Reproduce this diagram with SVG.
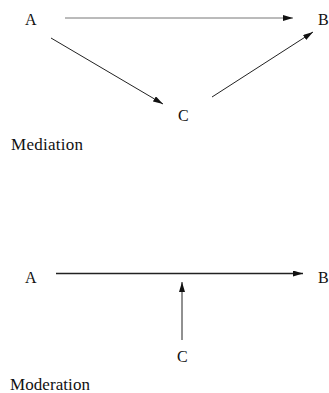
<svg xmlns="http://www.w3.org/2000/svg" width="329" height="393" viewBox="0 0 329 393">
<defs>
<style>
text{font-family:"Liberation Serif","Times New Roman",serif;font-size:16px;fill:#111}
.lbl{font-size:17px}
.c{stroke:#222;stroke-width:1;fill:none}
.g{stroke:#666;stroke-width:0.9;fill:none}
</style>
<marker id="ah" viewBox="0 0 10 6" refX="10" refY="3" markerWidth="10" markerHeight="6" markerUnits="userSpaceOnUse" orient="auto">
<path d="M0,0 L10,3 L0,6 z" fill="#111"/>
</marker>
</defs>
<rect width="329" height="393" fill="#fff"/>
<g id="connectors">
<line class="g" x1="65" y1="18" x2="293" y2="18" marker-end="url(#ah)"/>
<line class="c" x1="51" y1="38" x2="163" y2="104" marker-end="url(#ah)"/>
<line class="c" x1="212" y1="97" x2="313" y2="32" marker-end="url(#ah)"/>
<line class="c" x1="56" y1="273.5" x2="303" y2="273.5" style="stroke-width:1.3" marker-end="url(#ah)"/>
<line class="c" x1="182" y1="340" x2="182" y2="282" marker-end="url(#ah)"/>
</g>
<g id="mA"><text x="25" y="25">A</text></g>
<g id="mB"><text x="318" y="25">B</text></g>
<g id="mC"><text x="178" y="121">C</text></g>
<g id="mLabel"><text class="lbl" x="11" y="150" textLength="72" lengthAdjust="spacing">Mediation</text></g>
<g id="oA"><text x="25" y="283">A</text></g>
<g id="oB"><text x="318" y="283">B</text></g>
<g id="oC"><text x="177" y="362">C</text></g>
<g id="oLabel"><text class="lbl" x="10" y="390" textLength="80" lengthAdjust="spacing">Moderation</text></g>
</svg>
